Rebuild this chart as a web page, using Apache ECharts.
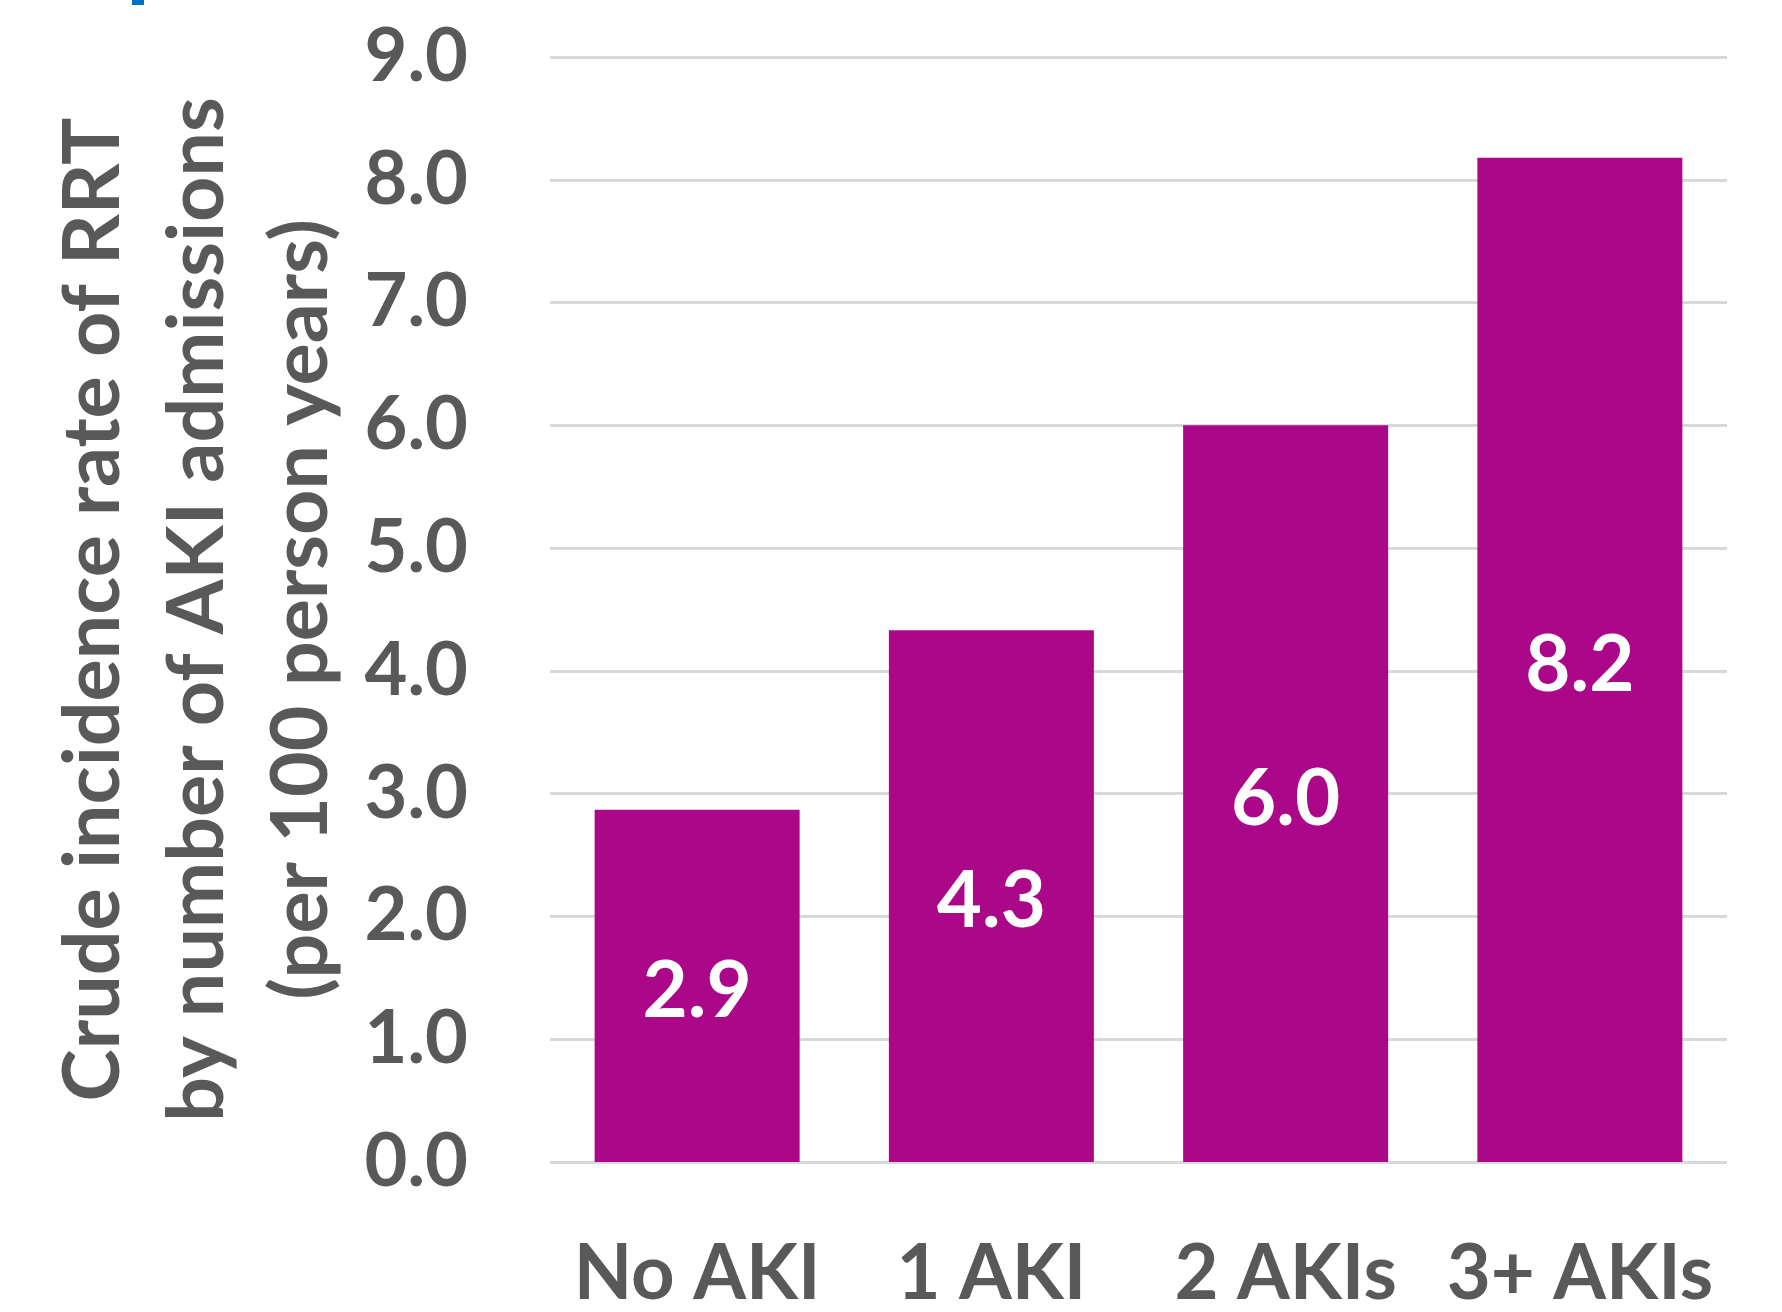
<!DOCTYPE html>
<html>
<head>
<meta charset="utf-8">
<script src="https://cdn.jsdelivr.net/npm/echarts@6/dist/echarts.min.js"></script>
<style>
  html, body { margin: 0; padding: 0; background: #fff; }
  #chart { width: 1782px; height: 1312px; }
</style>
</head>
<body>
<div id="chart"></div>
<script>
// categories and values
var categories = ['No AKI', '1 AKI', '2 AKIs', '3+ AKIs'];
var rates = [2.87, 4.33, 6.0, 8.18];
var yTitle = ['Crude incidence rate of RRT', 'by number of AKI admissions', '(per 100 person years)'];

var gray = '#595959';
var font = 'Lato';

var chart = echarts.init(document.getElementById('chart'));
var option = {
  backgroundColor: '#fff',
  animation: false,
  grid: { left: 550, right: 55, top: 57, bottom: 147, containLabel: false },
  xAxis: {
    type: 'category',
    data: categories,
    axisLine: { show: false },
    axisTick: { show: false },
    axisLabel: { interval: 0, color: gray, fontFamily: font, fontWeight: 'bold', fontSize: 76, margin: 74 }
  },
  yAxis: {
    type: 'value',
    min: 0,
    max: 9,
    interval: 1,
    axisLine: { show: false },
    axisTick: { show: false },
    axisLabel: {
      color: gray, fontFamily: font, fontWeight: 'bold', fontSize: 74, margin: 82,
      formatter: function (v) { return v.toFixed(1); }
    },
    splitLine: { lineStyle: { color: '#D9D9D9', width: 3 } },
    name: yTitle.join('\n'),
    nameLocation: 'middle',
    nameRotate: 90,
    nameGap: 189,
    nameTextStyle: { color: gray, fontFamily: font, fontWeight: 'bold', fontSize: 79, lineHeight: 104 }
  },
  series: [{
    type: 'bar',
    data: rates,
    barWidth: 205,
    itemStyle: { color: '#AA0889' },
    label: {
      show: true,
      position: 'inside',
      offset: [0, 6],
      color: '#fff',
      fontFamily: font,
      fontWeight: 'bold',
      fontSize: 78,
      formatter: function (p) { return p.value.toFixed(1); }
    }
  }],
  graphic: [{
    type: 'rect',
    shape: { x: 132, y: 0, width: 12, height: 5 },
    style: { fill: '#0070C0' }
  }]
};
chart.setOption(option);
</script>
</body>
</html>
